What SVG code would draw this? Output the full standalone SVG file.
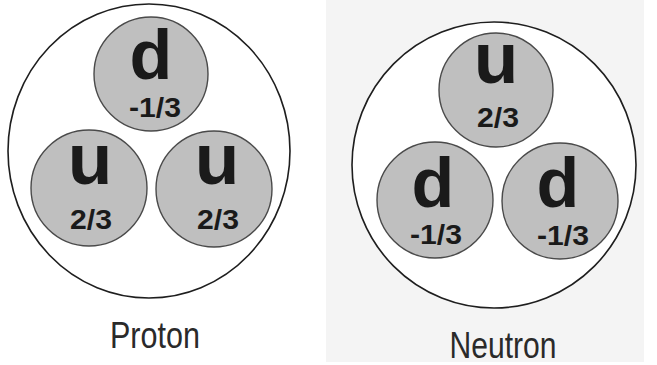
<svg xmlns="http://www.w3.org/2000/svg" width="657" height="365" viewBox="0 0 657 365">
<style>
.hadron{fill:#ffffff;stroke:#1e1e1e;stroke-width:1.6}
.quark{fill:#bfbfbf;stroke:#4a4a4a;stroke-width:1.4}
.flav{font-family:"Liberation Sans","DejaVu Sans",sans-serif;font-weight:bold;fill:#1a1a1a;text-anchor:middle}
.chg{font-family:"Liberation Sans","DejaVu Sans",sans-serif;font-weight:bold;font-size:27px;fill:#1a1a1a;text-anchor:middle}
.lbl{font-family:"Liberation Sans","DejaVu Sans",sans-serif;font-size:37px;fill:#2a2a2a;text-anchor:middle}
</style>
<rect x="0" y="0" width="657" height="365" fill="#ffffff"/>
<rect x="326" y="0" width="318" height="362" fill="#f4f4f4"/>
<g id="proton">
<ellipse class="hadron" cx="149" cy="151" rx="141" ry="147"/>
<g id="proton-d"><circle class="quark" cx="151" cy="74" r="57"/><text class="flav" x="151" y="79" font-size="70">d</text><text class="chg" x="155" y="117" textLength="52" lengthAdjust="spacingAndGlyphs">-1/3</text></g>
<g id="proton-u1"><circle class="quark" cx="89" cy="188" r="58"/><text class="flav" x="90" y="184" font-size="73">u</text><text class="chg" x="91" y="229" textLength="42" lengthAdjust="spacingAndGlyphs">2/3</text></g>
<g id="proton-u2"><circle class="quark" cx="214" cy="189" r="58"/><text class="flav" x="217" y="184" font-size="73">u</text><text class="chg" x="218" y="229" textLength="42" lengthAdjust="spacingAndGlyphs">2/3</text></g>
<text class="lbl" x="155" y="348" textLength="90" lengthAdjust="spacingAndGlyphs">Proton</text>
</g>
<g id="neutron">
<ellipse class="hadron" cx="494" cy="165" rx="142" ry="143"/>
<g id="neutron-u"><circle class="quark" cx="496" cy="90" r="57"/><text class="flav" x="496" y="83" font-size="73">u</text><text class="chg" x="498" y="127" textLength="42" lengthAdjust="spacingAndGlyphs">2/3</text></g>
<g id="neutron-d1"><circle class="quark" cx="435" cy="200" r="58"/><text class="flav" x="433" y="207" font-size="70">d</text><text class="chg" x="436" y="244" textLength="52" lengthAdjust="spacingAndGlyphs">-1/3</text></g>
<g id="neutron-d2"><circle class="quark" cx="560" cy="201" r="58"/><text class="flav" x="558" y="207" font-size="70">d</text><text class="chg" x="563" y="245" textLength="52" lengthAdjust="spacingAndGlyphs">-1/3</text></g>
<text class="lbl" x="503" y="358" textLength="107" lengthAdjust="spacingAndGlyphs">Neutron</text>
</g>
<g id="connectors"/>
</svg>
